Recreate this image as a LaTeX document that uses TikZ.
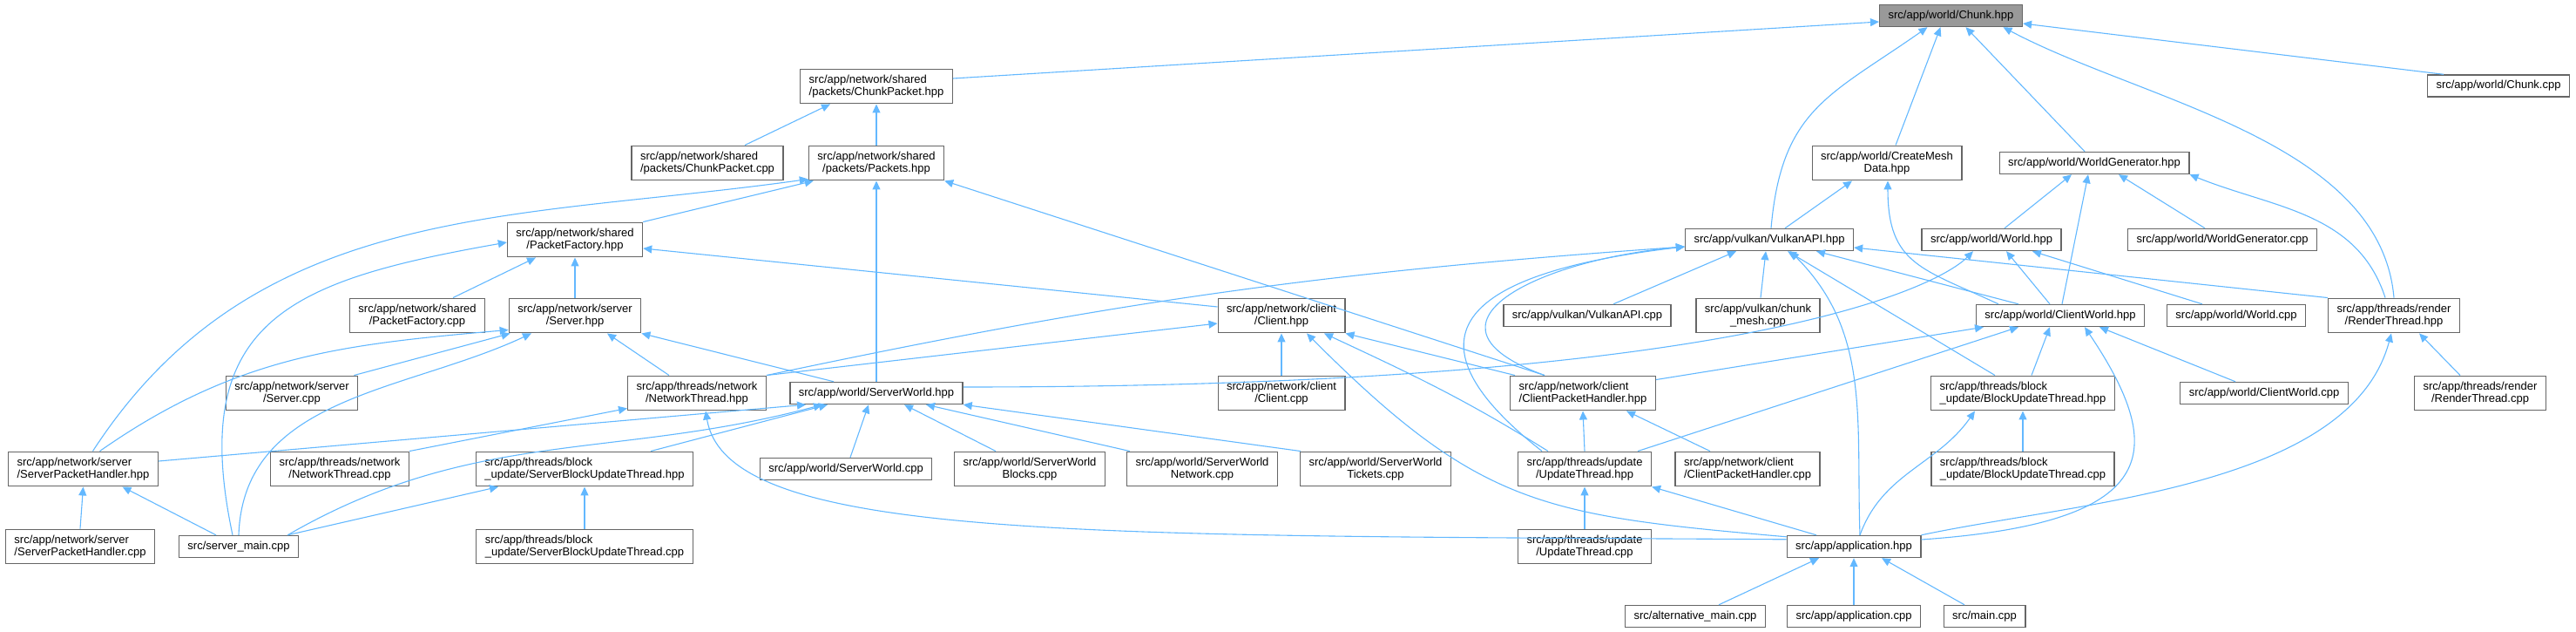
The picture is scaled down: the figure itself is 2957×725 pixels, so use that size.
\documentclass[tikz,border=0pt]{standalone}
\usepackage{fontspec}
\setmainfont{Liberation Sans}
\definecolor{dxedge}{HTML}{63B8FF}
\definecolor{dxframe}{HTML}{666666}
\definecolor{dxroot}{HTML}{999999}
\usetikzlibrary{arrows.meta}

\begin{document}
\begin{tikzpicture}[x=1pt, y=1pt,
  file/.style={draw=dxframe, line width=1.3pt, fill=white, inner xsep=10pt, inner ysep=6.5pt, minimum height=25pt, align=center, font=\fontsize{13pt}{14.5pt}\selectfont},
  lfile/.style={file, align=left},
  root/.style={file, fill=dxroot},
  dep/.style={draw=dxedge, line width=1.1pt, -{Triangle[length=10pt,width=9pt]}}]
  \useasboundingbox (0,0) rectangle (2957,-725);
  % Files, rank by rank
  \node[root] (chunkh) at (2239.5,-18) {src/app/world/Chunk.hpp};
  \node[lfile] (chunkpkth) at (1006,-99) {src/app/network/shared\\/packets/ChunkPacket.hpp};
  \node[file] (chunkcpp) at (2868,-98.5) {src/app/world/Chunk.cpp};
  \node[lfile] (chunkpktcpp) at (812,-187) {src/app/network/shared\\/packets/ChunkPacket.cpp};
  \node[file] (packetsh) at (1006,-187) {src/app/network/shared\\/packets/Packets.hpp};
  \node[file] (createmesh) at (2166,-187) {src/app/world/CreateMesh\\Data.hpp};
  \node[file] (worldgenh) at (2404,-187) {src/app/world/WorldGenerator.hpp};
  \node[file] (pktfacth) at (660,-275) {src/app/network/shared\\/PacketFactory.hpp};
  \node[file] (vulkanh) at (2031,-275) {src/app/vulkan/VulkanAPI.hpp};
  \node[file] (worldh) at (2286,-275) {src/app/world/World.hpp};
  \node[file] (worldgencpp) at (2551,-275) {src/app/world/WorldGenerator.cpp};
  \node[file] (pktfactcpp) at (479,-362) {src/app/network/shared\\/PacketFactory.cpp};
  \node[file] (serverh) at (660,-362) {src/app/network/server\\/Server.hpp};
  \node[file] (clienth) at (1471,-362) {src/app/network/client\\/Client.hpp};
  \node[file] (vulkancpp) at (1822,-362) {src/app/vulkan/VulkanAPI.cpp};
  \node[file] (chunkmesh) at (2018,-362) {src/app/vulkan/chunk\\\_mesh.cpp};
  \node[file] (clientworldh) at (2365,-362) {src/app/world/ClientWorld.hpp};
  \node[file] (worldcpp) at (2567,-362) {src/app/world/World.cpp};
  \node[file] (renderh) at (2748,-362) {src/app/threads/render\\/RenderThread.hpp};
  \node[file] (servercpp) at (335,-451) {src/app/network/server\\/Server.cpp};
  \node[file] (netthreadh) at (800,-451) {src/app/threads/network\\/NetworkThread.hpp};
  \node[file] (serverworldh) at (1006,-451) {src/app/world/ServerWorld.hpp};
  \node[file] (clientcpp) at (1471,-451) {src/app/network/client\\/Client.cpp};
  \node[lfile] (clientpkth) at (1817,-451) {src/app/network/client\\/ClientPacketHandler.hpp};
  \node[lfile] (blockupdh) at (2322,-451) {src/app/threads/block\\\_update/BlockUpdateThread.hpp};
  \node[file] (clientworldcpp) at (2599,-451) {src/app/world/ClientWorld.cpp};
  \node[file] (rendercpp) at (2847,-451) {src/app/threads/render\\/RenderThread.cpp};
  \node[lfile] (srvpkth) at (95.5,-538) {src/app/network/server\\/ServerPacketHandler.hpp};
  \node[file] (netthreadcpp) at (390,-538) {src/app/threads/network\\/NetworkThread.cpp};
  \node[lfile] (srvblockh) at (671,-538) {src/app/threads/block\\\_update/ServerBlockUpdateThread.hpp};
  \node[file] (serverworldcpp) at (971,-538) {src/app/world/ServerWorld.cpp};
  \node[file] (swblocks) at (1182,-538) {src/app/world/ServerWorld\\Blocks.cpp};
  \node[file] (swnetwork) at (1380,-538) {src/app/world/ServerWorld\\Network.cpp};
  \node[file] (swtickets) at (1579,-538) {src/app/world/ServerWorld\\Tickets.cpp};
  \node[file] (updateh) at (1819,-538) {src/app/threads/update\\/UpdateThread.hpp};
  \node[lfile] (clientpktcpp) at (2006,-538) {src/app/network/client\\/ClientPacketHandler.cpp};
  \node[lfile] (blockupdcpp) at (2322,-538) {src/app/threads/block\\\_update/BlockUpdateThread.cpp};
  \node[lfile] (srvpktcpp) at (92,-627) {src/app/network/server\\/ServerPacketHandler.cpp};
  \node[file] (servermain) at (274,-627) {src/server\_main.cpp};
  \node[lfile] (srvblockcpp) at (671,-627) {src/app/threads/block\\\_update/ServerBlockUpdateThread.cpp};
  \node[file] (updatecpp) at (1819,-627) {src/app/threads/update\\/UpdateThread.cpp};
  \node[file] (apph) at (2128,-627) {src/app/application.hpp};
  \node[file] (altmain) at (1946,-707) {src/alternative\_main.cpp};
  \node[file] (appcpp) at (2128,-707) {src/app/application.cpp};
  \node[file] (maincpp) at (2278,-707) {src/main.cpp};
  % Chunk.hpp
  \draw[dep] ([yshift=9pt]chunkpkth.east) -- ([yshift=-7pt]chunkh.west);
  \draw[dep] ([xshift=2pt]vulkanh.north) to[out=85,in=-145,looseness=1.2] ([xshift=-27pt]chunkh.south);
  \draw[dep] ([xshift=10pt]createmesh.north) -- ([xshift=-12pt]chunkh.south);
  \draw[dep] ([xshift=-11pt]worldgenh.north) -- ([xshift=17pt]chunkh.south);
  \draw[dep] (renderh.north) to[out=95,in=-28,looseness=0.85] ([xshift=60pt]chunkh.south);
  \draw[dep] ([xshift=-63pt]chunkcpp.north) -- ([yshift=-9pt]chunkh.east);
  % ChunkPacket.hpp
  \draw[dep] ([xshift=43pt]chunkpktcpp.north) -- ([xshift=-53pt]chunkpkth.south);
  \draw[dep] (packetsh.north) -- (chunkpkth.south);
  % Packets.hpp
  \draw[dep] (pktfacth.north east) -- ([xshift=6pt]packetsh.south west);
  \draw[dep] ([xshift=11pt]srvpkth.north) to[out=57,in=188] ([yshift=2pt]packetsh.south west);
  \draw[dep] (serverworldh.north) -- (packetsh.south);
  \draw[dep] ([xshift=-44pt]clientpkth.north) -- (packetsh.south east);
  % PacketFactory.hpp
  \draw[dep] ([xshift=41pt]pktfactcpp.north) -- ([xshift=-45pt]pktfacth.south);
  \draw[dep] (serverh.north) -- (pktfacth.south);
  \draw[dep] ([xshift=-7pt]servermain.north) to[out=102,in=190,looseness=1.4] ([yshift=-3pt]pktfacth.west);
  \draw[dep] ([yshift=10pt]clienth.west) -- ([yshift=-10pt]pktfacth.east);
  % Server.hpp
  \draw[dep] ([xshift=-5pt]servercpp.north east) -- ([xshift=2pt]serverh.south west);
  \draw[dep] ([xshift=19pt]srvpkth.north) to[out=35,in=185] ([yshift=4pt]serverh.south west);
  \draw[dep] (servermain.north) to[out=88,in=205] ([xshift=-50pt]serverh.south);
  \draw[dep] ([xshift=-32pt]netthreadh.north) -- ([xshift=37pt]serverh.south);
  \draw[dep] ([xshift=-49pt]serverworldh.north) -- (serverh.south east);
  % NetworkThread.hpp
  \draw[dep] (netthreadcpp.north east) -- ([yshift=3pt]netthreadh.south west);
  \draw[dep] ([yshift=-5pt]apph.north west) .. controls +(-800,5) and +(25,-150) .. ([xshift=10pt]netthreadh.south);
  % ServerWorld.hpp
  \draw[dep] ([yshift=9pt]srvpkth.east) -- ([xshift=-81pt]serverworldh.south);
  \draw[dep] ([xshift=-13pt]servermain.north east) to[out=30,in=195] ([xshift=-62pt]serverworldh.south);
  \draw[dep] ([xshift=76pt]srvblockh.north) -- ([xshift=-56pt]serverworldh.south);
  \draw[dep] ([xshift=5pt]serverworldcpp.north) -- ([xshift=-9pt]serverworldh.south);
  \draw[dep] ([xshift=-39pt]swblocks.north) -- ([xshift=32pt]serverworldh.south);
  \draw[dep] ([xshift=4pt]swnetwork.north west) -- ([xshift=57pt]serverworldh.south);
  \draw[dep] ([xshift=1pt]swtickets.north west) -- (serverworldh.south east);
  % ServerPacketHandler.hpp
  \draw[dep] (srvpktcpp.north) -- (srvpkth.south);
  \draw[dep] ([xshift=-26pt]servermain.north) -- ([xshift=45pt]srvpkth.south);
  % ServerBlockUpdateThread.hpp
  \draw[dep] ([xshift=-13pt]servermain.north east) -- ([xshift=-99pt]srvblockh.south);
  \draw[dep] (srvblockcpp.north) -- (srvblockh.south);
  % Client.hpp
  \draw[dep] (netthreadh.north east) -- ([yshift=-9pt]clienth.west);
  \draw[dep] (clientcpp.north) -- (clienth.south);
  \draw[dep] ([yshift=-2pt]apph.north west) to[out=175,in=-45,looseness=1.2] ([xshift=29pt]clienth.south);
  \draw[dep] ([xshift=-42pt]updateh.north) to[out=148,in=-25] ([xshift=49pt]clienth.south);
  \draw[dep] ([xshift=6pt]clientpkth.north west) -- (clienth.south east);
  % VulkanAPI.hpp
  \draw[dep] (netthreadh.north east) .. controls +(406,86) and +(-414,-29) .. ([yshift=-8pt]vulkanh.west);
  \draw[dep] ([xshift=-44pt]clientpkth.north) .. controls +(-160,58) and +(-169,-15) .. ([yshift=-8pt]vulkanh.west);
  \draw[dep] ([xshift=-49pt]updateh.north) .. controls +(-140,110) and +(-300,-35) .. ([yshift=-8pt]vulkanh.west);
  \draw[dep] ([xshift=30pt]vulkancpp.north) -- ([xshift=-38pt]vulkanh.south);
  \draw[dep] ([xshift=3pt]chunkmesh.north) -- ([xshift=-4pt]vulkanh.south);
  \draw[dep] ([xshift=7pt]apph.north) to[out=92,in=-45] ([xshift=24pt]vulkanh.south);
  \draw[dep] ([xshift=-32pt]blockupdh.north) -- ([xshift=21pt]vulkanh.south);
  \draw[dep] ([xshift=-48pt]clientworldh.north) -- ([xshift=54pt]vulkanh.south);
  \draw[dep] (renderh.north west) -- ([yshift=-9pt]vulkanh.east);
  % CreateMeshData.hpp
  \draw[dep] ([xshift=18pt]vulkanh.north) -- ([xshift=-40pt]createmesh.south);
  \draw[dep] ([xshift=-71pt]clientworldh.north) to[out=155,in=-90,looseness=1.3] ([xshift=1pt]createmesh.south);
  % WorldGenerator.hpp
  \draw[dep] ([xshift=15pt]worldh.north) -- ([xshift=-26pt]worldgenh.south);
  \draw[dep] ([xshift=2pt]clientworldh.north) -- ([xshift=-7pt]worldgenh.south);
  \draw[dep] ([xshift=-20pt]worldgencpp.north) -- ([xshift=28pt]worldgenh.south);
  \draw[dep] ([xshift=-10pt]renderh.north) to[out=108,in=-22] (worldgenh.south east);
  % World.hpp
  \draw[dep] ([yshift=7pt]serverworldh.east) .. controls +(900,0) and +(-40,-40) .. ([xshift=-21pt]worldh.south);
  \draw[dep] ([xshift=-12pt]clientworldh.north) -- ([xshift=17pt]worldh.south);
  \draw[dep] ([xshift=-39pt]worldcpp.north) -- ([xshift=47pt]worldh.south);
  % ClientWorld.hpp
  \draw[dep] ([yshift=-5pt]clientpkth.north east) -- ([xshift=-88pt]clientworldh.south);
  \draw[dep] ([xshift=61pt]updateh.north) -- ([xshift=-48pt]clientworldh.south);
  \draw[dep] ([xshift=10pt]blockupdh.north) -- ([xshift=-12pt]clientworldh.south);
  \draw[dep] ([yshift=8pt]apph.east) .. controls +(274,19) and +(97,-144) .. ([xshift=28pt]clientworldh.south);
  \draw[dep] ([xshift=-33pt]clientworldcpp.north) -- ([xshift=45pt]clientworldh.south);
  % RenderThread.hpp
  \draw[dep] ([xshift=-23pt]rendercpp.north) -- ([xshift=29pt]renderh.south);
  \draw[dep] (apph.north east) to[out=12,in=-105,looseness=0.8] ([xshift=-3pt]renderh.south);
  % ClientPacketHandler.hpp
  \draw[dep] (updateh.north) -- (clientpkth.south);
  \draw[dep] ([xshift=-43pt]clientpktcpp.north) -- ([xshift=50pt]clientpkth.south);
  % UpdateThread.hpp
  \draw[dep] (updatecpp.north) -- (updateh.south);
  \draw[dep] ([xshift=-43pt]apph.north) -- (updateh.south east);
  % BlockUpdateThread.hpp
  \draw[dep] (blockupdcpp.north) -- (blockupdh.south);
  \draw[dep] ([xshift=7pt]apph.north) to[out=70,in=-125] ([xshift=-55pt]blockupdh.south);
  % application.hpp
  \draw[dep] ([xshift=27pt]altmain.north) -- ([xshift=-40pt]apph.south);
  \draw[dep] (appcpp.north) -- (apph.south);
  \draw[dep] ([xshift=-23pt]maincpp.north) -- ([xshift=32pt]apph.south);
\end{tikzpicture}
\end{document}
